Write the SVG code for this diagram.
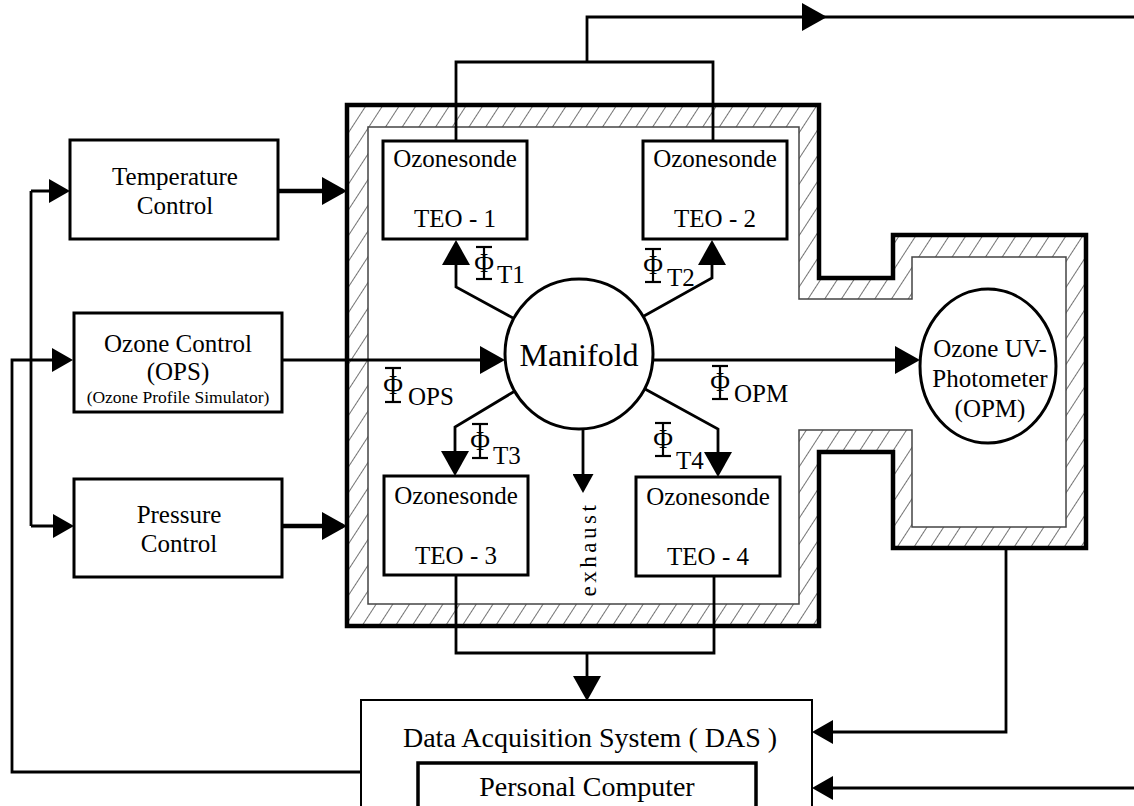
<svg xmlns="http://www.w3.org/2000/svg" width="1134" height="806" viewBox="0 0 1134 806">
<defs>
<pattern id="hatch" patternUnits="userSpaceOnUse" width="14" height="14" patternTransform="rotate(33)">
<line x1="0" y1="-2" x2="0" y2="16" stroke="#000" stroke-width="1.1"/>
</pattern>
<marker id="big" markerUnits="userSpaceOnUse" viewBox="0 0 25 28" refX="21" refY="14" markerWidth="25" markerHeight="28" orient="auto">
<path d="M0,0 L25,14 L0,28 Z" fill="#000"/>
</marker>
<marker id="small" markerUnits="userSpaceOnUse" viewBox="0 0 21 24" refX="17" refY="12" markerWidth="21" markerHeight="24" orient="auto">
<path d="M0,0 L21,12 L0,24 Z" fill="#000"/>
</marker>
<marker id="tiny" markerUnits="userSpaceOnUse" viewBox="0 0 19 21" refX="15" refY="10.5" markerWidth="19" markerHeight="21" orient="auto">
<path d="M0,0 L19,10.5 L0,21 Z" fill="#000"/>
</marker>
</defs>
<style>
text{font-family:"Liberation Serif","Times New Roman",serif;fill:#000}
.box{fill:#fff;stroke:#000;stroke-width:3}
.lbl{font-size:25px;text-anchor:middle}
.sub{font-size:25px}
.ln{fill:none;stroke:#000;stroke-width:2.8}
.thick{fill:none;stroke:#000;stroke-width:4.5}
.phi{font-size:27px;text-anchor:middle}
.bar{stroke:#000;stroke-width:2.2}
</style>
<rect x="0" y="0" width="1134" height="806" fill="#fff"/>

<g id="chamber">
<path fill="url(#hatch)" fill-rule="evenodd" d="M347,105 L819,105 L819,278 L893,278 L893,235 L1086,235 L1086,548 L893,548 L893,452 L819,452 L819,626 L347,626 Z M368,127 L799,127 L799,299 L912,299 L912,257 L1066,257 L1066,527 L912,527 L912,430 L799,430 L799,604 L368,604 Z"/>
<path fill="#fff" stroke="#444" stroke-width="1.5" d="M368,127 L799,127 L799,299 L912,299 L912,257 L1066,257 L1066,527 L912,527 L912,430 L799,430 L799,604 L368,604 Z"/>
<path fill="none" stroke="#000" stroke-width="4.5" d="M347,105 L819,105 L819,278 L893,278 L893,235 L1086,235 L1086,548 L893,548 L893,452 L819,452 L819,626 L347,626 Z"/>
</g>

<g id="connectors">
<path class="ln" d="M456,141 L456,62 L713,62 L713,141"/>
<path class="ln" d="M587,62 L587,17 L823,17" marker-end="url(#big)"/>
<line class="ln" x1="823" y1="17" x2="1134" y2="17"/>
<path class="ln" d="M31,191 L31,526"/>
<path class="ln" d="M31,191 L66,191" marker-end="url(#small)"/>
<path class="ln" d="M31,526 L70,526" marker-end="url(#small)"/>
<path class="ln" d="M361,772 L12,772 L12,360 L69,360" marker-end="url(#small)"/>
<path class="thick" d="M278,191 L343,191" marker-end="url(#big)"/>
<path class="thick" d="M282,526 L343,526" marker-end="url(#big)"/>
<path class="ln" d="M282,360 L501,360" marker-end="url(#big)"/>
<path class="ln" d="M652,360 L916,360" marker-end="url(#big)"/>
<path class="ln" d="M513,318 L456,287 L456,244" marker-end="url(#big)"/>
<path class="ln" d="M644,316 L712,278 L712,244" marker-end="url(#big)"/>
<path class="ln" d="M515,391 L455,427 L455,472" marker-end="url(#big)"/>
<path class="ln" d="M645,389 L718,429 L718,473" marker-end="url(#big)"/>
<path class="ln" d="M583,429 L583,489" marker-end="url(#tiny)"/>
<path class="ln" d="M456,575 L456,653 L714,653 L714,576"/>
<path class="ln" d="M587,653 L587,697" marker-end="url(#big)"/>
<path class="ln" d="M1006,548 L1006,732 L816,732" marker-end="url(#small)"/>
<path class="ln" d="M1134,788 L816,788" marker-end="url(#small)"/>
</g>

<g id="temperature-control">
<rect class="box" x="70" y="140" width="208" height="99"/>
<text class="lbl" x="175" y="185">Temperature</text>
<text class="lbl" x="175" y="214">Control</text>
</g>

<g id="ozone-control">
<rect class="box" x="74" y="313" width="208" height="99"/>
<text class="lbl" x="178" y="352" font-size="24">Ozone Control</text>
<text class="lbl" x="178" y="380">(OPS)</text>
<text x="178" y="403" font-size="17.5" text-anchor="middle">(Ozone Profile Simulator)</text>
</g>

<g id="pressure-control">
<rect class="box" x="74" y="479" width="208" height="98"/>
<text class="lbl" x="179" y="523">Pressure</text>
<text class="lbl" x="179" y="552">Control</text>
</g>

<g id="teo1">
<rect class="box" x="383" y="141" width="144" height="98"/>
<text class="lbl" x="455" y="167">Ozonesonde</text>
<text class="lbl" x="455" y="227">TEO - 1</text>
</g>

<g id="teo2">
<rect class="box" x="643" y="141" width="144" height="98"/>
<text class="lbl" x="715" y="167">Ozonesonde</text>
<text class="lbl" x="715" y="227">TEO - 2</text>
</g>

<g id="teo3">
<rect class="box" x="384" y="476" width="144" height="99"/>
<text class="lbl" x="456" y="504">Ozonesonde</text>
<text class="lbl" x="456" y="564">TEO - 3</text>
</g>

<g id="teo4">
<rect class="box" x="636" y="477" width="144" height="99"/>
<text class="lbl" x="708" y="505">Ozonesonde</text>
<text class="lbl" x="708" y="565">TEO - 4</text>
</g>

<g id="manifold">
<ellipse cx="579" cy="354" rx="74" ry="75" fill="#fff" stroke="#000" stroke-width="3"/>
<text x="579" y="366" font-size="32" text-anchor="middle">Manifold</text>
</g>

<g id="opm">
<ellipse cx="988" cy="366" rx="68" ry="77" fill="#fff" stroke="#000" stroke-width="3"/>
<text class="lbl" x="990" y="357">Ozone UV-</text>
<text class="lbl" x="990" y="387">Photometer</text>
<text class="lbl" x="990" y="417">(OPM)</text>
</g>

<g id="exhaust">
<text transform="translate(596,549) rotate(-90)" font-size="23" letter-spacing="3.5" text-anchor="middle">exhaust</text>
</g>

<g id="flow-labels">
<g id="phi-t1">
<line class="bar" x1="476" y1="247" x2="492" y2="247"/><line class="bar" x1="476" y1="279" x2="492" y2="279"/><line class="bar" x1="484" y1="247" x2="484" y2="279"/>
<text class="phi" x="484" y="272">Φ</text><text class="sub" x="497" y="283">T1</text>
</g>
<g id="phi-t2">
<line class="bar" x1="645" y1="249" x2="661" y2="249"/><line class="bar" x1="645" y1="282" x2="661" y2="282"/><line class="bar" x1="653" y1="249" x2="653" y2="282"/>
<text class="phi" x="653" y="274">Φ</text><text class="sub" x="667" y="286">T2</text>
</g>
<g id="phi-ops">
<line class="bar" x1="385" y1="368" x2="401" y2="368"/><line class="bar" x1="385" y1="402" x2="401" y2="402"/><line class="bar" x1="393" y1="368" x2="393" y2="402"/>
<text class="phi" x="393" y="394">Φ</text><text class="sub" x="408" y="405" font-size="24">OPS</text>
</g>
<g id="phi-opm">
<line class="bar" x1="712" y1="366" x2="728" y2="366"/><line class="bar" x1="712" y1="399" x2="728" y2="399"/><line class="bar" x1="720" y1="366" x2="720" y2="399"/>
<text class="phi" x="720" y="391">Φ</text><text class="sub" x="734" y="402" font-size="24">OPM</text>
</g>
<g id="phi-t3">
<line class="bar" x1="472" y1="424" x2="488" y2="424"/><line class="bar" x1="472" y1="458" x2="488" y2="458"/><line class="bar" x1="480" y1="424" x2="480" y2="458"/>
<text class="phi" x="480" y="450">Φ</text><text class="sub" x="493" y="464">T3</text>
</g>
<g id="phi-t4">
<line class="bar" x1="655" y1="423" x2="671" y2="423"/><line class="bar" x1="655" y1="456" x2="671" y2="456"/><line class="bar" x1="663" y1="423" x2="663" y2="456"/>
<text class="phi" x="663" y="448">Φ</text><text class="sub" x="676" y="469">T4</text>
</g>
</g>

<g id="das">
<rect x="361" y="700" width="451" height="120" fill="#fff" stroke="#000" stroke-width="2"/>
<text x="590" y="747" font-size="28" text-anchor="middle">Data Acquisition System ( DAS )</text>
</g>

<g id="pc">
<rect x="418" y="763" width="338" height="60" fill="#fff" stroke="#000" stroke-width="3.5"/>
<text x="587" y="796" font-size="28" text-anchor="middle">Personal Computer</text>
</g>
</svg>
